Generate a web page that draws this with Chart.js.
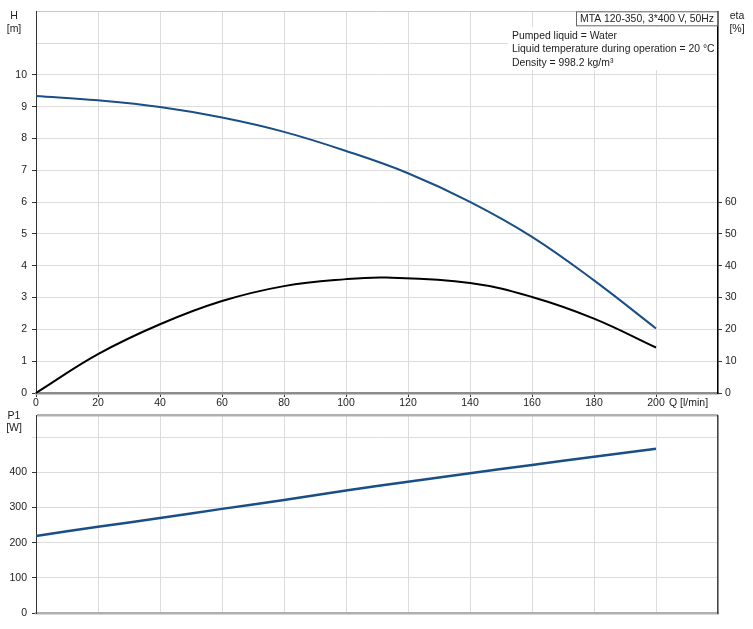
<!DOCTYPE html>
<html>
<head>
<meta charset="utf-8">
<script src="https://cdn.jsdelivr.net/npm/chart.js@4"></script>
<style>
html,body{margin:0;padding:0;background:#fff;width:753px;height:629px;overflow:hidden;}
canvas{position:absolute;left:0;}
#top{top:0;}
#bot{top:404px;}
</style>
</head>
<body>
<canvas id="top" width="753" height="412"></canvas>
<canvas id="bot" width="753" height="225"></canvas>
<script>
// ---- data ----
const qH = [0, 20, 40, 60, 80, 100, 120, 140, 160, 180, 200];
const headH = [9.34, 9.20, 8.99, 8.66, 8.21, 7.61, 6.91, 6.01, 4.91, 3.54, 2.03];
const qEta = [0, 20, 40, 60, 80, 100, 113, 140, 160, 180, 200];
const etaPct = [0, 12.2, 21.6, 28.9, 33.6, 35.8, 36.3, 34.6, 30.2, 23.4, 14.3];
const qP1 = [0, 20, 40, 60, 80, 100, 120, 140, 160, 180, 200];
const powerP1 = [219, 245, 270, 296, 321, 348, 373, 397, 421, 444, 467];
const qTicks = [0, 20, 40, 60, 80, 100, 120, 140, 160, 180, 200];
const hTickMax = 10;
const etaTickMax = 60;
const p1TickMax = 400;
const titleText = "MTA 120-350, 3*400 V, 50Hz";
const infoLines = ["Pumped liquid = Water", "Liquid temperature during operation = 20 °C", "Density = 998.2 kg/m³"];

const FONT = "'Liberation Sans', Arial, sans-serif";
const FS = 10.5;
const TXT = '#222';
const GRID = '#dcdcdc';
Chart.defaults.font.family = FONT;
Chart.defaults.font.size = FS;
Chart.defaults.color = TXT;

const pts = (xs, ys) => xs.map((x, i) => ({x, y: ys[i]}));

const topTexts = {
  id: 'topTexts',
  afterDraw(chart) {
    const c = chart.ctx;
    const a = chart.chartArea;
    c.save();
    c.font = FS + 'px ' + FONT;
    c.fillStyle = TXT;
    c.textBaseline = 'middle';
    c.textAlign = 'center';
    c.fillText('H', 14, 16);
    c.fillText('[m]', 14, 29);
    c.fillText('eta', 737, 16);
    c.fillText('[%]', 737, 29);
    c.textAlign = 'left';
    const xq = chart.scales.x.getPixelForValue(200);
    c.fillText('Q [l/min]', xq + 13, a.bottom + 10);
    // info block
    c.font = '10.4px ' + FONT;
    c.fillStyle = '#fff';
    c.fillRect(508, 27, a.right - 509, 43);
    c.fillStyle = TXT;
    infoLines.forEach((t, i) => c.fillText(t, 512, 36 + i * 13.5));
    // title box
    const w = c.measureText(titleText).width + 7;
    const bx = a.right - 1 - w;
    c.fillStyle = '#fff';
    c.fillRect(bx, a.top, w, 15);
    c.strokeStyle = '#666';
    c.lineWidth = 1;
    c.strokeRect(bx + 0.5, a.top + 0.5, w, 14);
    c.fillStyle = TXT;
    c.fillText(titleText, bx + 4, a.top + 8);
    c.restore();
  }
};

const botTexts = {
  id: 'botTexts',
  afterDraw(chart) {
    const c = chart.ctx;
    c.save();
    c.font = FS + 'px ' + FONT;
    c.fillStyle = TXT;
    c.textBaseline = 'middle';
    c.textAlign = 'center';
    c.fillText('P1', 14, 12);
    c.fillText('[W]', 14, 24);
    c.restore();
  }
};

new Chart(document.getElementById('top'), {
  type: 'line',
  data: {
    datasets: [
      {data: pts(qH, headH), yAxisID: 'y', borderColor: '#1a4f86', borderWidth: 2, pointRadius: 0, tension: 0.4, fill: false},
      {data: pts(qEta, etaPct), yAxisID: 'y2', borderColor: '#000', borderWidth: 2, pointRadius: 0, tension: 0.4, fill: false}
    ]
  },
  options: {
    responsive: false, animation: false, devicePixelRatio: 1,
    layout: {padding: {top: 11, left: 0, right: 0, bottom: 0}},
    plugins: {legend: {display: false}, tooltip: {enabled: false}},
    scales: {
      x: {
        type: 'linear', min: 0, max: 220,
        afterBuildTicks: s => { s.ticks = qTicks.concat([220]).map(v => ({value: v})); },
        ticks: {autoSkip: false, maxRotation: 0, padding: 0, color: TXT,
          callback: v => (qTicks.includes(v) ? String(v) : '')},
        grid: {color: GRID, lineWidth: 1, tickLength: 4,
          tickColor: ctx => (ctx.tick && ctx.tick.value <= 200 ? '#333' : 'transparent')},
        border: {color: '#8c8c8c', width: 2.5},
        afterFit: s => { s.height = 19; }
      },
      y: {
        position: 'left', min: 0, max: 12,
        ticks: {stepSize: 1, padding: 5, color: TXT, callback: v => (v <= hTickMax ? String(v) : '')},
        grid: {color: ctx => (ctx.tick && ctx.tick.value === 12 ? '#c8c8c8' : GRID), lineWidth: 1, tickLength: 4,
          tickColor: ctx => (ctx.tick && ctx.tick.value <= hTickMax ? '#333' : 'transparent')},
        border: {color: '#333', width: 1},
        afterFit: s => { s.width = 36; }
      },
      y2: {
        position: 'right', min: 0, max: 120,
        ticks: {stepSize: 10, padding: 3, color: TXT, callback: v => (v <= etaTickMax ? String(v) : '')},
        grid: {drawOnChartArea: false, tickLength: 4,
          tickColor: ctx => (ctx.tick && ctx.tick.value <= etaTickMax ? '#333' : 'transparent')},
        border: {color: '#000', width: 1.5},
        afterFit: s => { s.width = 35; }
      }
    }
  },
  plugins: [topTexts]
});

new Chart(document.getElementById('bot'), {
  type: 'line',
  data: {
    datasets: [
      {data: pts(qP1, powerP1), yAxisID: 'y', borderColor: '#1a4f86', borderWidth: 2.5, pointRadius: 0, tension: 0.4, fill: false}
    ]
  },
  options: {
    responsive: false, animation: false, devicePixelRatio: 1,
    layout: {padding: {top: 7, left: 0, right: 0, bottom: 0}},
    plugins: {legend: {display: false}, tooltip: {enabled: false}},
    scales: {
      x: {
        type: 'linear', min: 0, max: 220,
        afterBuildTicks: s => { s.ticks = qTicks.concat([220]).map(v => ({value: v})); },
        ticks: {display: false},
        grid: {color: GRID, lineWidth: 1, drawTicks: false},
        border: {color: '#b0b0b0', width: 2.5},
        afterFit: s => { s.height = 16; }
      },
      y: {
        position: 'left', min: 0, max: 562,
        afterBuildTicks: s => { s.ticks = [0, 100, 200, 300, 400, 500, 562].map(v => ({value: v})); },
        ticks: {padding: 5, color: TXT, callback: v => (v <= p1TickMax ? String(v) : '')},
        grid: {
          color: ctx => (ctx.tick && ctx.tick.value === 562 ? '#b0b0b0' : GRID),
          lineWidth: ctx => (ctx.tick && ctx.tick.value === 562 ? 2.5 : 1),
          tickLength: 4,
          tickColor: ctx => (ctx.tick && ctx.tick.value <= p1TickMax ? '#333' : (ctx.tick && ctx.tick.value === 500 ? GRID : 'transparent'))},
        border: {color: '#333', width: 1},
        afterFit: s => { s.width = 36; }
      },
      yr: {
        position: 'right', min: 0, max: 562,
        ticks: {display: false},
        grid: {drawOnChartArea: false, drawTicks: false},
        border: {color: '#444', width: 1.5},
        afterFit: s => { s.width = 35; }
      }
    }
  },
  plugins: [botTexts]
});
</script>
</body>
</html>
